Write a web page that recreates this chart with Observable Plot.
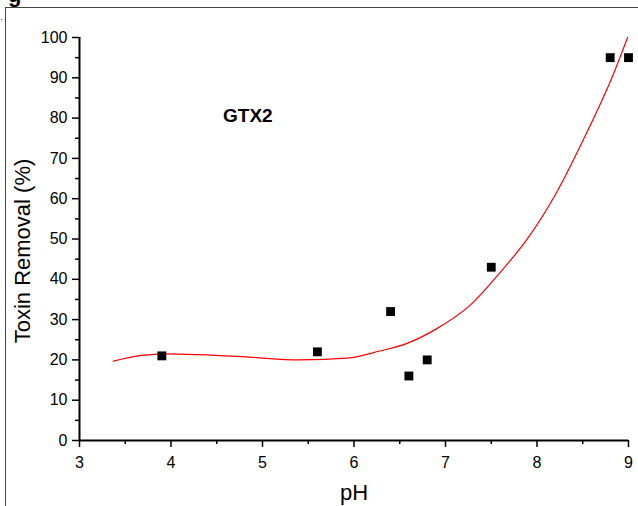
<!DOCTYPE html>
<html>
<head>
<meta charset="utf-8">
<script src="https://cdn.jsdelivr.net/npm/d3@7"></script>
<script src="https://cdn.jsdelivr.net/npm/@observablehq/plot@0.6"></script>
<style>
  html, body { margin: 0; padding: 0; background: #fff; overflow: hidden; }
  #wrap { position: relative; width: 638px; height: 506px; }
  #frame { position: absolute; left: 5px; top: 7px; right: 0; bottom: 0;
           border-left: 1px solid #444; border-top: 1px solid #444; pointer-events: none; }
  #fig { position: absolute; left: 8px; top: -16px; font: bold 22px "Liberation Sans", Arial, sans-serif; line-height: 22px; }
  #dot { position: absolute; left: 1px; top: 19px; width: 1px; height: 1px; background: #555; }
</style>
</head>
<body>
<div id="wrap">
  <div id="fig">g</div>
  <div id="frame"></div>
  <div id="dot"></div>
  <div id="chart"></div>
</div>
<script>
// Measured points (pH, toxin removal %)
const pointPH = [3.9, 5.6, 6.4, 6.6, 6.8, 7.5, 8.8, 9.0];
const pointRemoval = [21, 22, 32, 16, 20, 43, 95, 95];

// Fitted curve
const curvePH = [3.37, 3.68, 3.94, 4.31, 4.85, 5.40, 5.95, 6.28, 6.58, 6.90, 7.27, 7.57, 7.90, 8.22, 8.51, 8.84, 8.99];
const curveRemoval = [19.7, 21.1, 21.5, 21.3, 20.7, 20.0, 20.5, 22.2, 24.1, 27.7, 33.6, 41.0, 50.2, 61.8, 74.8, 91.2, 100];

const xTicks = [3, 4, 5, 6, 7, 8, 9];
const xMinor = [3.5, 4.5, 5.5, 6.5, 7.5, 8.5];
const yTicks = [0, 10, 20, 30, 40, 50, 60, 70, 80, 90, 100];
const yMinor = [5, 15, 25, 35, 45, 55, 65, 75, 85, 95];

const seriesLabel = ["GTX2"];
const seriesLabelPH = [4.84];
const seriesLabelRemoval = [80.6];

const points = pointPH.map((p, i) => ({pH: p, removal: pointRemoval[i]}));
const curve = curvePH.map((p, i) => ({pH: p, removal: curveRemoval[i]}));
const labels = seriesLabel.map((t, i) => ({text: t, pH: seriesLabelPH[i], removal: seriesLabelRemoval[i]}));

const chart = Plot.plot({
  width: 638,
  height: 506,
  marginLeft: 79,
  marginRight: 10,
  marginTop: 37,
  marginBottom: 66,
  x: {domain: [3, 9]},
  y: {domain: [0, 100]},
  style: {fontFamily: "'Liberation Sans', Arial, sans-serif", fontSize: "16px", background: "transparent", color: "#000"},
  marks: [
    Plot.axisY({ticks: yTicks, tickSize: 7, tickPadding: 5, tickFormat: d => String(d), label: null, fontSize: 16, strokeWidth: 1.5}),
    Plot.axisY({ticks: yMinor, tickSize: 4, text: null, label: null, strokeWidth: 1.5}),
    Plot.axisX({ticks: xTicks, tickSize: 7, tickPadding: 9, tickFormat: d => String(d), label: null, fontSize: 16, strokeWidth: 1.5}),
    Plot.axisX({ticks: xMinor, tickSize: 4, text: null, label: null, strokeWidth: 1.5}),
    Plot.ruleX([3], {stroke: "#000", strokeWidth: 2}),
    Plot.ruleY([0], {stroke: "#000", strokeWidth: 2}),
    Plot.line(curve, {x: "pH", y: "removal", stroke: "#ff0000", strokeWidth: 1.2, curve: "monotone-x"}),
    Plot.dot(points, {x: "pH", y: "removal", symbol: "square", fill: "#000", stroke: "none", r: 5}),
    Plot.text(labels, {x: "pH", y: "removal", text: "text", fontSize: 19, fontWeight: "bold"}),
    Plot.text(["Toxin Removal (%)"], {frameAnchor: "left", rotate: -90, dx: -57, dy: 12, fontSize: 22, textAnchor: "middle", lineAnchor: "middle"}),
    Plot.text(["pH"], {frameAnchor: "bottom", dy: 52, fontSize: 22, lineAnchor: "middle"})
  ]
});
document.getElementById("chart").appendChild(chart);
</script>
</body>
</html>
